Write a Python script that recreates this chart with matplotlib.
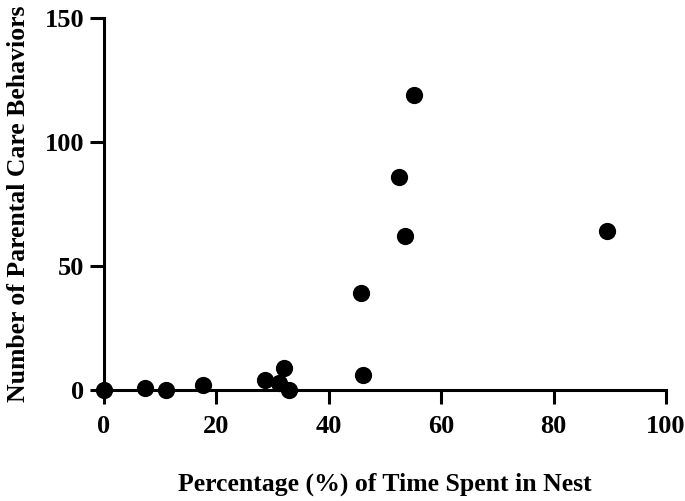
import matplotlib
matplotlib.use("Agg")
import matplotlib.pyplot as plt

# time in nest (%) vs number of parental care behaviors
pct_time = [0, 7.3, 11.0, 17.6, 28.6, 31.1, 32.0, 32.9, 46.1, 45.7, 52.5, 53.6, 55.2, 89.5]
behaviors = [0, 1, 0, 2, 4, 3, 9, 0, 6, 39, 86, 62, 119, 64]

x_ticks = [0, 20, 40, 60, 80, 100]
y_ticks = [0, 50, 100, 150]

plt.rcParams['font.family'] = ['Liberation Serif', 'DejaVu Serif']
plt.rcParams['font.weight'] = 'bold'

fig = plt.figure(figsize=(6.85, 5.01), dpi=100)
ax = fig.add_axes([104 / 685, 1 - 390 / 501, (666 - 104) / 685, (390 - 18) / 501])

ax.scatter(pct_time, behaviors, s=130, color='black', zorder=3, clip_on=False)

ax.set_xlim(0, 100)
ax.set_ylim(0, 150)
ax.set_xticks(x_ticks)
ax.set_yticks(y_ticks)

for side in ['top', 'right']:
    ax.spines[side].set_visible(False)
for side in ['left', 'bottom']:
    ax.spines[side].set_linewidth(2.2)

ax.tick_params(axis='both', length=10, width=2.2, labelsize=19)
ax.tick_params(axis='x', pad=8)
ax.tick_params(axis='y', pad=4)
for lbl in ax.get_xticklabels() + ax.get_yticklabels():
    lbl.set_fontweight('bold')

ax.set_xlabel("Percentage (%) of Time Spent in Nest", fontsize=18.5, fontweight='bold', labelpad=25)
ax.set_ylabel("Number of Parental Care Behaviors", fontsize=18.5, fontweight='bold', labelpad=11)

fig.savefig("out.png", dpi=100)
